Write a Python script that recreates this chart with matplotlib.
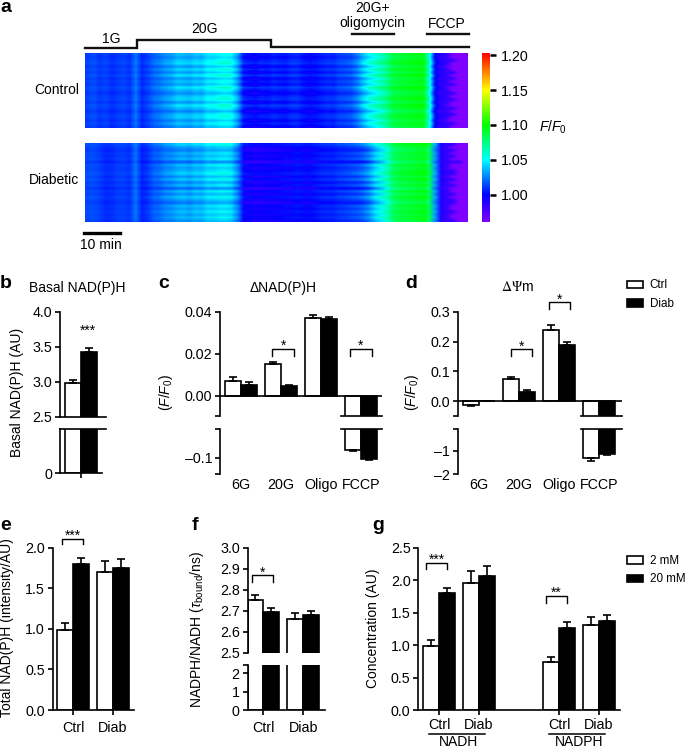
import numpy as np
import matplotlib
matplotlib.use('Agg')
import matplotlib.pyplot as plt
from matplotlib.colors import LinearSegmentedColormap
from matplotlib.patches import Patch

W, H = 685, 750

plt.rcParams['font.family'] = ['Liberation Sans', 'DejaVu Sans']
plt.rcParams['font.size'] = 10
plt.rcParams['mathtext.fontset'] = 'custom'
plt.rcParams['mathtext.rm'] = 'Liberation Sans'
plt.rcParams['mathtext.it'] = 'Liberation Sans:italic'
plt.rcParams['mathtext.bf'] = 'Liberation Sans:bold'
plt.rcParams['axes.linewidth'] = 1.2

# --- panel a: mean F/F0 of each time column
control_profile = [
    1.012, 1.015, 1.010, 1.013, 1.008, 1.011, 1.013, 1.009, 1.023, 1.007,
    1.012, 1.019, 1.022, 1.027, 1.029, 1.036, 1.034, 1.032, 1.037, 1.035,
    1.044, 1.043, 1.047, 1.049, 1.046, 1.030, 1.003, 1.000, 0.998, 1.002,
    1.001, 1.005, 1.003, 1.002, 1.006, 1.007, 1.002, 1.000, 1.001, 1.004,
    1.007, 1.006, 1.011, 1.012, 1.014, 1.022, 1.035, 1.047, 1.054, 1.062,
    1.072, 1.086, 1.088, 1.090, 1.092, 1.093, 1.095, 1.060, 1.000, 0.988,
    0.975, 0.962, 0.961, 0.961]
diabetic_profile = [
    1.014, 1.015, 1.012, 1.008, 1.009, 1.012, 1.012, 1.010, 1.023, 1.006,
    1.010, 1.018, 1.020, 1.026, 1.027, 1.032, 1.033, 1.030, 1.035, 1.034,
    1.041, 1.040, 1.043, 1.044, 1.040, 1.025, 0.998, 0.996, 0.994, 0.995,
    0.996, 0.996, 0.997, 0.999, 0.999, 1.002, 1.000, 0.999, 1.002, 1.005,
    1.006, 1.006, 1.009, 1.010, 1.012, 1.014, 1.018, 1.026, 1.040, 1.050,
    1.062, 1.080, 1.086, 1.088, 1.090, 1.092, 1.095, 1.085, 1.030, 0.990,
    0.982, 0.963, 0.961, 0.961]
# how strongly the row differences show in each column
row_response = [
    0.2, 0.2, 0.2, 0.2, 0.2, 0.2, 0.2, 0.2, 0.2, 0.2,
    0.3, 0.4, 0.5, 0.6, 0.7, 0.8, 0.8, 0.8, 0.8, 0.8,
    0.8, 0.9, 1.0, 1.0, 0.9, 0.8, 0.7, 0.7, 0.7, 0.7,
    0.6, 0.6, 0.6, 0.6, 0.6, 0.5, 0.5, 0.5, 0.5, 0.5,
    0.5, 0.5, 0.5, 0.6, 0.7, 0.8, 1.0, 1.1, 1.1, 1.0,
    0.8, 0.6, 0.5, 0.5, 0.5, 0.5, 0.5, 0.7, 0.5, 0.2,
    0.1, 0.0, 0.0, 0.0]
control_rows = [
    0.004, -0.004, 0.006, 0.012, -0.006, 0.010, -0.004, 0.014, -0.006, 0.006,
    -0.004, 0.014, 0.002, -0.008, 0.006, 0.010, -0.006, 0.014, 0.002, -0.010,
    0.006, 0.008, -0.006, 0.006, -0.006]
diabetic_rows = [
    0.012, -0.002, -0.010, 0.004, -0.004, 0.006, -0.018, 0.008, -0.002, 0.004,
    0.012, -0.004, 0.010, -0.008, 0.006, -0.016, 0.008, -0.006, 0.010, -0.002,
    -0.012, 0.006, -0.002, 0.008, -0.002, 0.006, -0.004]
# columns of blue left after the FCCP edge, per row
control_reach = [1, 1, 2, 1, 0, 1, 2, 1, 2, 1, 2, 0, 1, 2, 1, 2, 1, 0, 2, 1, 2, 1, 0, 2, 1]
diabetic_reach = [2, 0, 2, 1, 2, 1, 3, 1, 0, 2, 2, 0, 2, 1, 2, 0, 1, 2, 0, 2, 2, 1, 0, 2, 1, 0, 2]
fccp_start = 60
fccp_blue = 0.985

cbar_ticks = [1.00, 1.05, 1.10, 1.15, 1.20]
cbar_min, cbar_max = 0.961, 1.203

# --- bar panels
basal_ctrl, basal_diab = [2.98], [3.42]
basal_ctrl_err, basal_diab_err = [0.05], [0.06]

delta_labels = ['6G', '20G', 'Oligo', 'FCCP']
nad_ctrl = [0.0070, 0.0150, 0.0370, -0.0850]
nad_diab = [0.0053, 0.0045, 0.0363, -0.1030]
nad_ctrl_err = [0.0018, 0.0012, 0.0015, 0.0020]
nad_diab_err = [0.0010, 0.0007, 0.0012, 0.0015]

psi_ctrl = [-0.013, 0.075, 0.240, -1.33]
psi_diab = [0.001, 0.032, 0.190, -1.13]
psi_ctrl_err = [0.004, 0.007, 0.016, 0.10]
psi_diab_err = [0.001, 0.006, 0.010, 0.05]

group_labels = ['Ctrl', 'Diab']
total_2mm = [0.99, 1.70]
total_20mm = [1.80, 1.75]
total_2mm_err = [0.08, 0.13]
total_20mm_err = [0.07, 0.11]

tau_2mm = [2.750, 2.660]
tau_20mm = [2.693, 2.678]
tau_2mm_err = [0.025, 0.027]
tau_20mm_err = [0.018, 0.022]

conc_labels = ['Ctrl', 'Diab', 'Ctrl', 'Diab']
conc_pos = [0, 1, 3, 4]
conc_2mm = [0.99, 1.96, 0.74, 1.31]
conc_20mm = [1.80, 2.06, 1.27, 1.37]
conc_2mm_err = [0.09, 0.18, 0.08, 0.12]
conc_20mm_err = [0.08, 0.16, 0.08, 0.09]

fig = plt.figure(figsize=(W / 100, H / 100), dpi=100)


def px_axes(left, right, top, bottom):
    """Axes placed by pixel edges of the final image."""
    return fig.add_axes([left / W, 1 - bottom / H, (right - left) / W, (bottom - top) / H])


def fig_text(x, y, s, **kw):
    kw.setdefault('ha', 'center')
    kw.setdefault('va', 'center')
    fig.text(x / W, 1 - y / H, s, **kw)


def build_matrix(profile, rows, reach):
    mat = np.array(profile)[None, :] + np.array(rows)[:, None] * np.array(row_response)[None, :]
    for i, n in enumerate(reach):
        mat[i, fccp_start:fccp_start + n] = fccp_blue
    return mat


def draw_bars(ax, x, ctrl, diab, ctrl_err, diab_err):
    for vals, errs, off, col in [(ctrl, ctrl_err, -0.2, 'white'), (diab, diab_err, 0.2, 'black')]:
        vals = np.array(vals)
        errs = np.array(errs)
        yerr = [np.where(vals < 0, errs, 0), np.where(vals >= 0, errs, 0)]
        ax.bar(np.array(x) + off, vals, width=0.4, color=col, edgecolor='black', linewidth=1.2,
               yerr=yerr, ecolor='black', capsize=2.8,
               error_kw={'elinewidth': 1.2, 'capthick': 1.2})


def style(ax):
    ax.spines['top'].set_visible(False)
    ax.spines['right'].set_visible(False)
    ax.tick_params(length=3.6, width=1.2, pad=2, labelsize=10.3)


def bracket(ax, x0, x1, top, leg, stars):
    ax.plot([x0, x0, x1, x1], [leg, top, top, leg], color='black', lw=1.0, clip_on=False)
    ax.annotate(stars, ((x0 + x1) / 2, top), xytext=(0, -3), textcoords='offset points',
                ha='center', va='bottom', fontsize=10, annotation_clip=False)


def broken_panel(box, split, xlim, up_lim, low_lim, up_ticks, low_ticks, up_labels, low_labels,
                 x, ctrl, diab, ctrl_err, diab_err, span=None):
    left, right, top, bottom = box
    up = px_axes(left, right, top, split[0])
    low = px_axes(left, right, split[1], bottom)
    for ax, lim in [(up, up_lim), (low, low_lim)]:
        draw_bars(ax, x, ctrl, diab, ctrl_err, diab_err)
        style(ax)
        ax.set_xlim(*xlim)
        ax.set_ylim(*lim)
    up.set_yticks(up_ticks)
    up.set_yticklabels(up_labels)
    low.set_yticks(low_ticks)
    low.set_yticklabels(low_labels)
    up.set_xticks([])
    if span is None:
        up.spines['bottom'].set_visible(False)
    else:
        up.spines['bottom'].set_bounds(*span)
        low.spines['top'].set_visible(True)
        low.spines['top'].set_bounds(*span)
    return up, low


# --- panel a
rainbow = LinearSegmentedColormap.from_list('rb', [
    (0.0, '#8000ff'),
    ((1.00 - cbar_min) / (cbar_max - cbar_min), '#0000ff'),
    ((1.05 - cbar_min) / (cbar_max - cbar_min), '#00ffff'),
    ((1.10 - cbar_min) / (cbar_max - cbar_min), '#00ff00'),
    ((1.15 - cbar_min) / (cbar_max - cbar_min), '#ffff00'),
    (1.0, '#ff0000')])

for (y0, y1), prof, rows, reach in [((53, 128), control_profile, control_rows, control_reach),
                                    ((143, 222), diabetic_profile, diabetic_rows, diabetic_reach)]:
    ax = px_axes(85, 468, y0, y1)
    ax.imshow(build_matrix(prof, rows, reach), aspect='auto', cmap=rainbow, vmin=cbar_min,
              vmax=cbar_max, interpolation='bilinear')
    ax.axis('off')

cax = px_axes(482, 490, 53, 222)
cax.imshow(np.linspace(cbar_max, cbar_min, 256)[:, None], aspect='auto', cmap=rainbow,
           vmin=cbar_min, vmax=cbar_max, extent=[0, 1, cbar_min, cbar_max])
cax.set_xticks([])
cax.yaxis.tick_right()
cax.set_yticks(cbar_ticks)
cax.set_yticklabels([f'{t:.2f}' for t in cbar_ticks])
cax.tick_params(length=4, width=1.8, pad=4, labelsize=10.3)
for s in cax.spines.values():
    s.set_visible(False)
fig_text(539, 127, r'$\mathit{F/F}_0$', ha='left')

# overlay for the protocol lines, in image pixels
over = fig.add_axes([0, 0, 1, 1], zorder=-1)
over.set_xlim(0, W)
over.set_ylim(H, 0)
over.axis('off')
over.plot([85, 137, 137, 271, 271, 469], [48, 48, 39.5, 39.5, 46.7, 46.7], color='#111111', lw=1.7,
          solid_joinstyle='miter')
over.plot([352, 394], [34, 34], color='#111111', lw=1.7)
over.plot([427, 469], [34, 34], color='#111111', lw=1.7)
over.plot([84, 120], [233, 233], color='black', lw=2.4)

fig_text(111, 39, '1G')
fig_text(204, 29, '20G')
fig_text(372, 8, '20G+')
fig_text(372, 23.5, 'oligomycin')
fig_text(447, 23.5, 'FCCP')
fig_text(79, 90, 'Control', ha='right')
fig_text(79, 180, 'Diabetic', ha='right')
fig_text(101, 245, '10 min')

# --- panel b
up, low = broken_panel((60, 106, 311.7, 473), (416.7, 429), (-0.525, 0.625), (2.5, 4.0), (0, 1),
                       [2.5, 3.0, 3.5, 4.0], [0], ['2.5', '3.0', '3.5', '4.0'], ['0'],
                       [0], basal_ctrl, basal_diab, basal_ctrl_err, basal_diab_err,
                       span=(-0.525, 0.625))
low.set_xticks([0])
low.set_xticklabels([''])
low.spines['bottom'].set_bounds(-0.525, 0.525)
up.annotate('***', (0.17, 3.73), ha='center', va='center', fontsize=10)
fig_text(77, 288, 'Basal NAD(P)H')
fig_text(16.7, 392, 'Basal NAD(P)H (AU)', rotation=90)

# --- panel c
up, low = broken_panel((220, 381.7, 311.7, 474), (416, 429), (-0.52, 3.525), (-0.0097, 0.04),
                       (-0.132, -0.044), [-0.0097, 0, 0.02, 0.04], [-0.132, -0.1, -0.044],
                       ['', '0.00', '0.02', '0.04'], ['', '–0.1', ''],
                       range(4), nad_ctrl, nad_diab, nad_ctrl_err, nad_diab_err, span=(2.5, 3.525))
up.axhline(0, color='black', lw=1.2)
low.spines['bottom'].set_visible(False)
low.set_xticks(range(4))
low.set_xticklabels(delta_labels)
low.tick_params(axis='x', length=0, pad=3)
bracket(up, 0.79, 1.33, 0.0222, 0.019, '*')
bracket(up, 2.73, 3.27, 0.0222, 0.019, '*')
fig_text(283, 288, 'ΔNAD(P)H')
fig_text(165.7, 392, r'($\mathit{F/F}_0$)', rotation=90)

# --- panel d
up, low = broken_panel((458, 621.7, 311.7, 474), (416, 429), (-0.53, 3.56), (-0.049, 0.3), (-2, -0.07),
                       [-0.049, 0, 0.1, 0.2, 0.3], [-2, -1, -0.07],
                       ['', '0.0', '0.1', '0.2', '0.3'], ['–2', '–1', ''],
                       range(4), psi_ctrl, psi_diab, psi_ctrl_err, psi_diab_err, span=(2.535, 3.56))
up.axhline(0, color='black', lw=1.2)
low.spines['bottom'].set_visible(False)
low.set_xticks(range(4))
low.set_xticklabels(delta_labels)
low.tick_params(axis='x', length=0, pad=3)
bracket(up, 0.79, 1.33, 0.1745, 0.152, '*')
bracket(up, 1.74, 2.27, 0.331, 0.309, '*')
fig_text(518, 287, r'$\Delta\mathit{\Psi}$m', math_fontfamily='stix')
fig_text(411.7, 392, r'($\mathit{F/F}_0$)', rotation=90)
fig.legend(handles=[Patch(facecolor='white', edgecolor='black', linewidth=1.2),
                    Patch(facecolor='black', edgecolor='black', linewidth=1.2)],
           labels=['Ctrl', 'Diab'], loc='upper left', bbox_to_anchor=(626.5 / W, 1 - 279.5 / H),
           frameon=False, fontsize=8.4, handlelength=1.45, handleheight=0.6, labelspacing=0.55,
           borderpad=0, borderaxespad=0, handletextpad=0.55)

# --- panel e
ax = px_axes(52.7, 134.3, 547.7, 710)
draw_bars(ax, range(2), total_2mm, total_20mm, total_2mm_err, total_20mm_err)
style(ax)
ax.set_xlim(-0.52, 1.54)
ax.set_ylim(0, 2.0)
ax.set_yticks([0, 0.5, 1.0, 1.5, 2.0])
ax.set_yticklabels(['0.0', '0.5', '1.0', '1.5', '2.0'])
ax.set_xticks(range(2))
ax.set_xticklabels(group_labels)
ax.tick_params(axis='x', pad=4)
bracket(ax, -0.28, 0.24, 2.11, 2.04, '***')
fig_text(7.3, 628, 'Total NAD(P)H (intensity/AU)', rotation=90)

# --- panel f
up, low = broken_panel((247.5, 325, 547.7, 710), (652.7, 665), (-0.4, 1.55), (2.5, 3.0), (0, 2.45),
                       [2.5, 2.6, 2.7, 2.8, 2.9, 3.0], [0, 1, 2, 2.45],
                       ['2.5', '2.6', '2.7', '2.8', '2.9', '3.0'], ['0', '1', '2', ''],
                       range(2), tau_2mm, tau_20mm, tau_2mm_err, tau_20mm_err)
low.set_xticks(range(2))
low.set_xticklabels(group_labels)
low.tick_params(axis='x', pad=4)
bracket(up, -0.28, 0.25, 2.868, 2.835, '*')
fig_text(196.7, 629, r'NADPH/NADH ($\tau_{\mathrm{bound}}$/ns)', rotation=90)

# --- panel g
ax = px_axes(418.3, 620, 547.7, 710)
draw_bars(ax, conc_pos, conc_2mm, conc_20mm, conc_2mm_err, conc_20mm_err)
style(ax)
ax.set_xlim(-0.52, 4.525)
ax.set_ylim(0, 2.5)
ax.set_yticks([0, 0.5, 1.0, 1.5, 2.0, 2.5])
ax.set_yticklabels(['0.0', '0.5', '1.0', '1.5', '2.0', '2.5'])
ax.set_xticks(conc_pos)
ax.set_xticklabels(conc_labels)
ax.tick_params(axis='x', pad=2.5)
bracket(ax, -0.33, 0.2, 2.266, 2.165, '***')
bracket(ax, 2.67, 3.2, 1.755, 1.65, '**')
fig_text(373, 628, 'Concentration (AU)', rotation=90)
fig_text(459, 746.5, 'NADH', va='baseline')
fig_text(579, 746.5, 'NADPH', va='baseline')
over.plot([429, 485], [733.5, 733.5], color='black', lw=1.1)
over.plot([549, 605], [733.5, 733.5], color='black', lw=1.1)
fig.legend(handles=[Patch(facecolor='white', edgecolor='black', linewidth=1.2),
                    Patch(facecolor='black', edgecolor='black', linewidth=1.2)],
           labels=['2 mM', '20 mM'], loc='upper left', bbox_to_anchor=(626.5 / W, 1 - 555 / H),
           frameon=False, fontsize=8.4, handlelength=1.45, handleheight=0.6, labelspacing=0.55,
           borderpad=0, borderaxespad=0, handletextpad=0.55)

for letter, x, y in [('a', 0, 8), ('b', 0, 283), ('c', 158, 283), ('d', 405, 283),
                     ('e', 0, 525), ('f', 192, 525), ('g', 372, 525)]:
    fig_text(x, y, letter, ha='left', fontsize=14, fontweight='bold')

fig.savefig('out.png', dpi=100)
